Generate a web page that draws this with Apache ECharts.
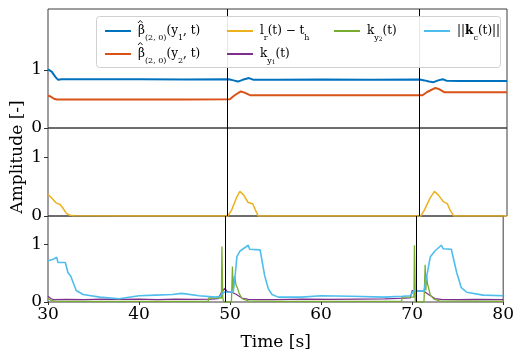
<!DOCTYPE html>
<html>
<head>
<meta charset="utf-8">
<script src="https://cdn.jsdelivr.net/npm/echarts@6/dist/echarts.min.js"></script>
<style>
  html, body { margin: 0; padding: 0; background: #fff; }
  #chart { width: 517px; height: 352px; }
</style>
</head>
<body>
<div id="chart"></div>
<script>
// --- data ---
const eventTimes = [49.5, 70.45];
const yTicks = [0, 1];

const b1T = [30, 30.4, 30.8, 31.1, 31.5, 35, 40, 45, 49.7, 50.2, 50.7, 51.2, 51.9, 52.4, 55, 60, 65, 70.5, 71.0, 71.5, 72.0, 72.5, 73.0, 73.4, 75, 80];
const b1V = [1.01, 0.97, 0.88, 0.83, 0.84, 0.84, 0.84, 0.835, 0.84, 0.82, 0.80, 0.83, 0.86, 0.83, 0.83, 0.835, 0.83, 0.835, 0.82, 0.80, 0.79, 0.82, 0.84, 0.815, 0.81, 0.81];

const b2T = [30, 30.3, 30.7, 31.0, 31.5, 35, 40, 45, 49.8, 50.3, 51.0, 51.4, 52.0, 55, 60, 65, 70.8, 71.3, 72.2, 72.6, 73.2, 75, 80];
const b2V = [0.56, 0.54, 0.50, 0.49, 0.49, 0.49, 0.49, 0.49, 0.495, 0.56, 0.63, 0.61, 0.565, 0.565, 0.565, 0.565, 0.565, 0.62, 0.69, 0.67, 0.615, 0.615, 0.615];

const lrT = [30, 30.5, 30.9, 31.3, 31.6, 32.0, 32.4, 32.8, 40, 49.6, 50.0, 50.5, 50.9, 51.3, 51.8, 52.3, 52.6, 52.9, 60, 70.6, 71.0, 71.6, 72.1, 72.5, 73.1, 73.5, 73.8, 74.2, 80];
const lrV = [0.37, 0.29, 0.22, 0.20, 0.14, 0.045, 0.012, 0.003, 0, 0, 0.10, 0.30, 0.42, 0.36, 0.23, 0.21, 0.10, 0, 0, 0, 0.10, 0.30, 0.42, 0.36, 0.24, 0.21, 0.10, 0, 0];

const ky1T = [30, 30.3, 30.7, 32, 34, 36, 38, 40, 42, 44, 46, 48, 48.7, 49.0, 49.4, 49.7, 50.2, 50.7, 51.3, 52.0, 55, 58, 61, 64, 67, 69.8, 70.0, 70.3, 70.8, 71.25, 71.8, 72.5, 73.2, 75, 77, 80];
const ky1V = [0.10, 0.06, 0.04, 0.045, 0.04, 0.05, 0.045, 0.05, 0.04, 0.05, 0.045, 0.05, 0.06, 0.15, 0.24, 0.18, 0.17, 0.13, 0.07, 0.045, 0.04, 0.05, 0.045, 0.05, 0.055, 0.07, 0.20, 0.20, 0.19, 0.19, 0.13, 0.06, 0.045, 0.04, 0.045, 0.04];

const ky2T = [30, 30.3, 30.8, 32, 40, 47.6, 47.65, 49.05, 49.1, 49.15, 49.2, 49.3, 50.15, 50.26, 50.33, 50.4, 50.48, 50.56, 50.65, 50.8, 51.0, 51.3, 52, 55, 60, 68.85, 68.9, 70.2, 70.25, 70.3, 70.35, 71.3, 71.43, 71.5, 71.55, 71.6, 71.7, 71.8, 72.0, 72.4, 73, 80];
const ky2V = [0.06, 0.03, 0.015, 0.01, 0.01, 0.01, 0.07, 0.07, 0.97, 0.97, 0.07, 0.0, 0.0, 0.62, 0.2, 0.30, 0.45, 0.40, 0.30, 0.25, 0.15, 0.06, 0.02, 0.01, 0.01, 0.01, 0.085, 0.085, 0.99, 0.99, 0.0, 0.0, 0.65, 0.2, 0.35, 0.45, 0.30, 0.25, 0.12, 0.05, 0.02, 0.01];

const kcT = [30, 30.5, 30.95, 31.1, 31.9, 32.2, 32.5, 33.1, 33.85, 35.7, 37.8, 40, 41.8, 43.65, 44.7, 46.6, 48.4, 48.9, 49.3, 50.0, 50.35, 50.55, 50.75, 51.1, 52.0, 52.15, 53.3, 53.8, 54.2, 54.6, 55.3, 57.8, 60, 63.3, 66.9, 68.9, 69.8, 70.2, 70.7, 71.3, 71.6, 72.0, 72.5, 73.2, 73.4, 74.3, 74.9, 75.4, 76.0, 77.8, 80];
const kcV = [0.72, 0.74, 0.78, 0.69, 0.69, 0.51, 0.45, 0.20, 0.13, 0.085, 0.056, 0.11, 0.12, 0.13, 0.15, 0.11, 0.085, 0.10, 0.17, 0.17, 0.18, 0.45, 0.79, 0.89, 0.99, 0.92, 0.91, 0.46, 0.23, 0.13, 0.085, 0.085, 0.11, 0.10, 0.085, 0.10, 0.11, 0.20, 0.19, 0.19, 0.45, 0.79, 0.89, 0.99, 0.93, 0.92, 0.51, 0.25, 0.17, 0.12, 0.11];

const FONT = 'DejaVu Serif';
const zip = (t, v) => t.map((x, i) => [x, v[i]]);

const legendText = {
  b1: '{m|β}{s|(2, 0)}{m|(y}{s|1}{m|, t)}',
  b2: '{m|β}{s|(2, 0)}{m|(y}{s|2}{m|, t)}',
  lr: '{m|l}{s|r}{m|(t) − t}{s|h}',
  ky1: '{m|k}{s|y}{ss|1}{m|(t)}',
  ky2: '{m|k}{s|y}{ss|2}{m|(t)}',
  kc: '{m|||}{b|k}{s|c}{m|(t)||}'
};
const rich = {
  m: { fontFamily: FONT, fontSize: 12, lineHeight: 22, color: '#000' },
  b: { fontFamily: FONT, fontSize: 12, lineHeight: 22, fontWeight: 'bold', color: '#000' },
  s: { fontFamily: FONT, fontSize: 8, lineHeight: 16, verticalAlign: 'bottom', color: '#000' },
  ss: { fontFamily: FONT, fontSize: 6, lineHeight: 11, verticalAlign: 'bottom', color: '#000' }
};

function makeLegend(names, left) {
  return {
    data: names, orient: 'vertical', left: left, top: 20, itemGap: 6,
    icon: 'rect', itemWidth: 26, itemHeight: 2, z: 100,
    formatter: n => legendText[n],
    textStyle: { rich: rich, padding: [0, 0, 0, 2] },
    selectedMode: false
  };
}

// small hats over the two beta symbols in the first legend column
const hats = [30, 52].map(y => ({
  type: 'polyline', z: 120, silent: true,
  shape: { points: [[138, y - 7], [140.3, y - 9.5], [142.6, y - 7]] },
  style: { stroke: '#000', lineWidth: 0.9, fill: null }
}));

const vlines = {
  silent: true, symbol: ['none', 'none'], animation: false,
  label: { show: false },
  lineStyle: { color: '#000', width: 1, type: 'solid' },
  emphasis: { disabled: true },
  data: eventTimes.map(t => ({ xAxis: t }))
};

const grids = [
  { left: 48, right: 10, top: 9, height: 119 },
  { left: 48, right: 10, top: 128, height: 88 },
  { left: 48, right: 10, top: 216, height: 89 }
].map(g => Object.assign(g, { show: true, borderColor: '#3c3c3c', borderWidth: 1 }));

const xAxes = [0, 1, 2].map(i => ({
  type: 'value', gridIndex: i, min: 30, max: 80, interval: 10,
  splitLine: { show: false },
  axisLine: { show: false },
  axisTick: { show: i === 2, length: 3, lineStyle: { color: '#333' } },
  axisLabel: { show: i === 2, fontFamily: FONT, fontSize: 17, color: '#000', margin: 4 },
  name: i === 2 ? 'Time [s]' : '',
  nameLocation: 'middle', nameGap: 32,
  nameTextStyle: { fontFamily: FONT, fontSize: 17, color: '#000' }
}));

const yMax = [2.05, 1.5, 1.5];
const yAxes = [0, 1, 2].map(i => ({
  type: 'value', gridIndex: i, min: 0, max: yMax[i],
  splitLine: { show: false },
  axisLine: { show: false },
  axisTick: { show: true, length: 4, customValues: yTicks, lineStyle: { color: '#333' } },
  axisLabel: { customValues: yTicks, fontFamily: FONT, fontSize: 17, color: '#000', margin: 6 }
}));

const line = (name, t, v, color, grid, width, extra) => Object.assign({
  name: name, type: 'line', xAxisIndex: grid, yAxisIndex: grid,
  data: zip(t, v), showSymbol: false, symbol: 'none',
  lineStyle: { color: color, width: width }, itemStyle: { color: color },
  animation: false
}, extra || {});

const option = {
  animation: false,
  grid: grids,
  xAxis: xAxes,
  yAxis: yAxes,
  legend: [
    makeLegend(['b1', 'b2'], 100),
    makeLegend(['lr', 'ky1'], 222),
    makeLegend(['ky2'], 329),
    makeLegend(['kc'], 419)
  ],
  graphic: [
    {
      type: 'rect', z: 50, silent: true,
      shape: { x: 96.5, y: 16.5, width: 404, height: 51, r: 3 },
      style: { fill: 'rgba(255,255,255,0.9)', stroke: '#d0d0d0', lineWidth: 1 }
    },
    {
      type: 'text', z: 50, x: 18, y: 157, rotation: Math.PI / 2, silent: true,
      style: { text: 'Amplitude [-]', fontFamily: FONT, fontSize: 17, fill: '#000', textAlign: 'center', textVerticalAlign: 'middle' }
    }
  ].concat(hats),
  series: [
    line('b1', b1T, b1V, '#0072BD', 0, 2, { markLine: vlines }),
    line('b2', b2T, b2V, '#D95319', 0, 2),
    line('lr', lrT, lrV, '#EDB120', 1, 1.5, { markLine: vlines }),
    line('ky1', ky1T, ky1V, '#7E2F8E', 2, 1.2),
    line('ky2', ky2T, ky2V, '#77AC30', 2, 1.3),
    line('kc', kcT, kcV, '#4DBEEE', 2, 1.6, { markLine: vlines })
  ]
};

const chart = echarts.init(document.getElementById('chart'));
chart.setOption(option);
</script>
</body>
</html>
